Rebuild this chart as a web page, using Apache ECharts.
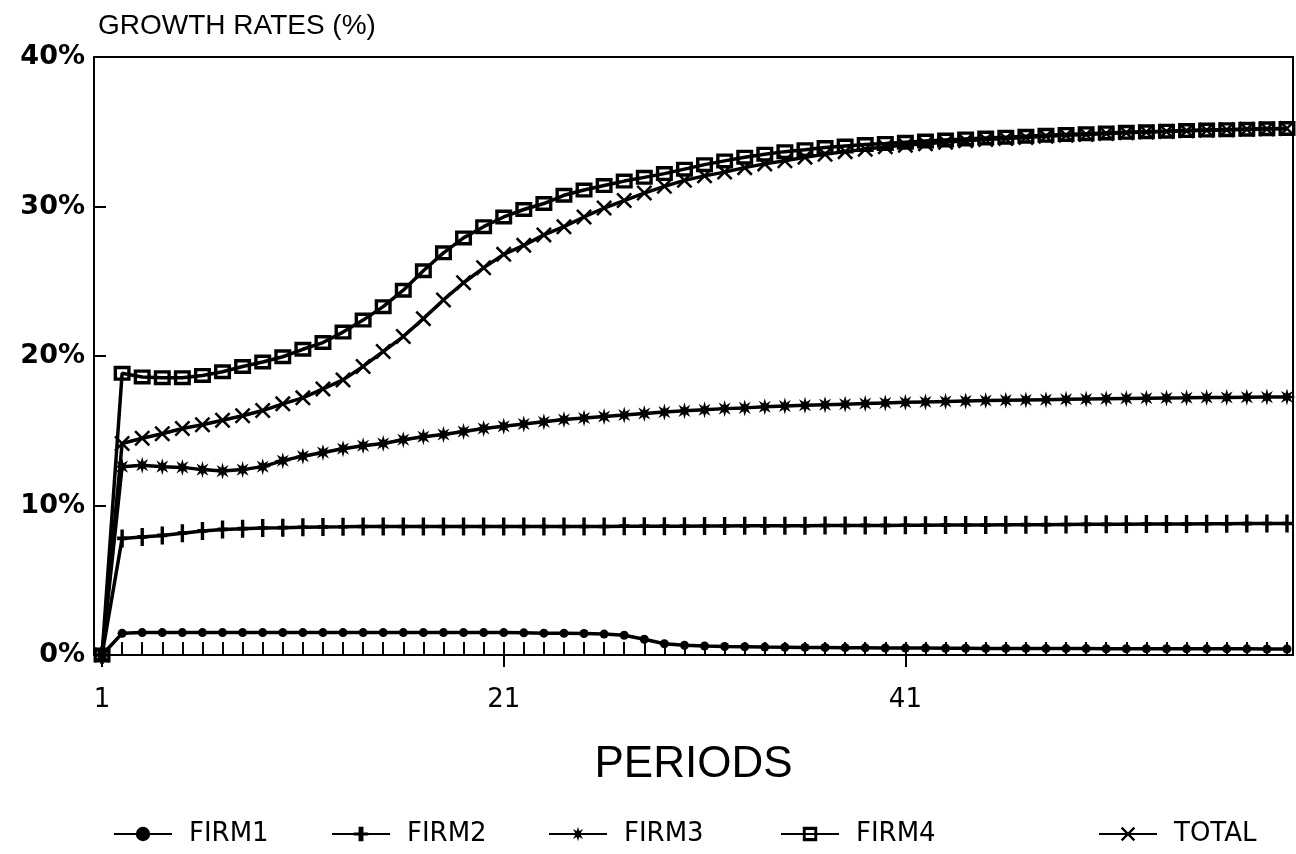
<!DOCTYPE html>
<html>
<head>
<meta charset="utf-8">
<script src="https://cdn.jsdelivr.net/npm/echarts@6/dist/echarts.min.js"></script>
<style>
html,body{margin:0;padding:0;background:#fff;}
#chart{width:1296px;height:854px;}
</style>
</head>
<body>
<div id="chart"></div>
<script>
// ---- Data ----
var periods = [1,2,3,4,5,6,7,8,9,10,11,12,13,14,15,16,17,18,19,20,
  21,22,23,24,25,26,27,28,29,30,31,32,33,34,35,36,37,38,39,40,
  41,42,43,44,45,46,47,48,49,50,51,52,53,54,55,56,57,58,59,60];
var xTickLabels = [1, 21, 41];
var yTickLabels = [0, 10, 20, 30, 40];

var firm1 = [0, 1.45, 1.5, 1.5, 1.5, 1.5, 1.5, 1.5, 1.5, 1.5,
  1.5, 1.5, 1.5, 1.5, 1.5, 1.5, 1.5, 1.5, 1.5, 1.5,
  1.5, 1.48, 1.46, 1.45, 1.44, 1.4, 1.32, 1.05, 0.75, 0.65,
  0.6, 0.57, 0.55, 0.53, 0.52, 0.51, 0.5, 0.49, 0.48, 0.47,
  0.46, 0.46, 0.45, 0.45, 0.44, 0.44, 0.44, 0.43, 0.43, 0.43,
  0.42, 0.42, 0.42, 0.42, 0.41, 0.41, 0.41, 0.41, 0.4, 0.4];
var firm2 = [0, 7.8, 7.9, 8.0, 8.15, 8.3, 8.4, 8.45, 8.5, 8.52,
  8.55, 8.57, 8.58, 8.6, 8.6, 8.6, 8.6, 8.6, 8.6, 8.6,
  8.6, 8.6, 8.6, 8.6, 8.6, 8.6, 8.62, 8.62, 8.62, 8.62,
  8.63, 8.63, 8.64, 8.64, 8.65, 8.65, 8.66, 8.66, 8.67, 8.67,
  8.68, 8.68, 8.69, 8.7, 8.7, 8.71, 8.72, 8.72, 8.73, 8.74,
  8.74, 8.75, 8.76, 8.76, 8.77, 8.78, 8.78, 8.79, 8.8, 8.8];
var firm3 = [0, 12.6, 12.7, 12.6, 12.55, 12.4, 12.3, 12.4, 12.6, 13.0,
  13.3, 13.55, 13.8, 14.0, 14.15, 14.4, 14.6, 14.75, 14.95, 15.15,
  15.3, 15.45, 15.6, 15.75, 15.85, 15.95, 16.05, 16.15, 16.25, 16.33,
  16.4, 16.48, 16.53, 16.6, 16.65, 16.7, 16.74, 16.78, 16.82, 16.86,
  16.9, 16.93, 16.96, 16.99, 17.02, 17.04, 17.06, 17.08, 17.1, 17.12,
  17.14, 17.16, 17.18, 17.19, 17.2, 17.22, 17.23, 17.24, 17.25, 17.26];
var firm4 = [0, 18.84, 18.6, 18.55, 18.55, 18.7, 18.95, 19.3, 19.6, 19.95,
  20.45, 20.9, 21.6, 22.4, 23.3, 24.4, 25.7, 26.9, 27.9, 28.65,
  29.3, 29.8, 30.2, 30.75, 31.1, 31.4, 31.7, 31.95, 32.2, 32.5,
  32.8, 33.05, 33.3, 33.5, 33.67, 33.8, 33.95, 34.05, 34.15, 34.22,
  34.3, 34.38, 34.45, 34.52, 34.58, 34.64, 34.7, 34.76, 34.82, 34.87,
  34.92, 34.96, 35.0, 35.04, 35.08, 35.11, 35.14, 35.17, 35.2, 35.22];
var total = [0, 14.15, 14.5, 14.8, 15.15, 15.4, 15.7, 16.0, 16.35, 16.8,
  17.2, 17.8, 18.4, 19.3, 20.3, 21.3, 22.5, 23.75, 24.9, 25.9,
  26.8, 27.4, 28.1, 28.65, 29.3, 29.9, 30.4, 30.9, 31.35, 31.75,
  32.05, 32.3, 32.6, 32.85, 33.06, 33.3, 33.5, 33.67, 33.83, 34.0,
  34.1, 34.2, 34.3, 34.4, 34.48, 34.55, 34.62, 34.7, 34.76, 34.82,
  34.88, 34.93, 34.98, 35.02, 35.06, 35.1, 35.13, 35.16, 35.19, 35.22];

var seriesNames = ['FIRM1', 'FIRM2', 'FIRM3', 'FIRM4', 'TOTAL'];
var seriesValues = [firm1, firm2, firm3, firm4, total];

// ---- Marker shapes ----
var symPlus = 'path://M-1.7,-8 L1.7,-8 L1.7,8 L-1.7,8 Z M-5,-1.6 L5,-1.6 L5,1.6 L-5,1.6 Z';
var symStar = 'path://M8,0 L3.2,1.33 L5.66,5.66 L1.33,3.2 L0,8 L-1.33,3.2 L-5.66,5.66 L-3.2,1.33 L-8,0 L-3.2,-1.33 L-5.66,-5.66 L-1.33,-3.2 L0,-8 L1.33,-3.2 L5.66,-5.66 L3.2,-1.33 Z';
var symSquare = 'path://M-8,-7 L8,-7 L8,7 L-8,7 Z M-4.8,-3.8 L-4.8,3.8 L4.8,3.8 L4.8,-3.8 Z';
var symCross = 'path://M-8,-6.2 L-6.2,-8 L8,6.2 L6.2,8 Z M6.2,-8 L8,-6.2 L-6.2,8 L-8,6.2 Z';

var symbols = ['circle', symPlus, symStar, symSquare, symCross];
var symbolSizes = [9, [10, 18], 17, [17, 15], 16];

function pairs(vals) {
  return periods.map(function (p, i) { return [p, vals[i]]; });
}

var series = seriesNames.map(function (name, k) {
  return {
    name: name,
    type: 'line',
    xAxisIndex: 0,
    yAxisIndex: 0,
    data: pairs(seriesValues[k]),
    symbol: symbols[k],
    symbolSize: symbolSizes[k],
    showAllSymbol: true,
    lineStyle: { color: '#000', width: 3.5 },
    itemStyle: { color: '#000', borderColor: '#000', borderWidth: 0 },
    emphasis: { disabled: true },
    z: 3 + k
  };
});

var legendLefts = [108, 326, 543, 775, 1093];
var legends = seriesNames.map(function (name, k) {
  return {
    data: [name],
    left: legendLefts[k],
    top: 816,
    itemWidth: 58,
    itemHeight: 18,
    selectedMode: false,
    textStyle: {
      fontFamily: 'DejaVu Sans',
      fontSize: 26,
      color: '#000',
      padding: [0, 0, 0, 12]
    }
  };
});

var chart = echarts.init(document.getElementById('chart'), null, { renderer: 'canvas' });
chart.setOption({
  animation: false,
  backgroundColor: '#fff',
  title: {
    text: 'GROWTH RATES (%)',
    left: 93,
    top: 7,
    textStyle: { fontFamily: 'Liberation Sans', fontSize: 28, fontWeight: 'normal', color: '#000' }
  },
  legend: legends,
  grid: {
    left: 94, right: 3, top: 57, bottom: 199,
    show: true, borderColor: '#000', borderWidth: 2,
    outerBoundsMode: 'none'
  },
  xAxis: [{
    type: 'value',
    min: 0.6,
    max: 60.3,
    position: 'bottom',
    name: 'PERIODS',
    nameLocation: 'middle',
    nameGap: 88,
    nameTextStyle: { fontFamily: 'Liberation Sans', fontSize: 44, color: '#000' },
    axisLine: { show: true, lineStyle: { color: '#000', width: 2 } },
    axisTick: { show: true, inside: false, length: 12, customValues: xTickLabels, lineStyle: { color: '#000', width: 2 } },
    axisLabel: { show: true, customValues: xTickLabels, margin: 32, fontFamily: 'DejaVu Sans', fontSize: 26, color: '#000' },
    splitLine: { show: false }
  }, {
    type: 'value',
    min: 0.6,
    max: 60.3,
    position: 'bottom',
    axisLine: { show: false },
    axisTick: { show: true, inside: true, length: 13, customValues: periods, lineStyle: { color: '#000', width: 2 } },
    axisLabel: { show: false },
    splitLine: { show: false }
  }],
  yAxis: {
    type: 'value',
    min: 0,
    max: 40,
    interval: 10,
    axisLine: { show: true, lineStyle: { color: '#000', width: 2 } },
    axisTick: { show: true, inside: true, length: 12, lineStyle: { color: '#000', width: 2 } },
    axisLabel: {
      margin: 9,
      fontFamily: 'DejaVu Sans',
      fontWeight: 'bold',
      fontSize: 27,
      color: '#000',
      formatter: function (v) { return v + '%'; }
    },
    splitLine: { show: false }
  },
  series: series
});
</script>
</body>
</html>
